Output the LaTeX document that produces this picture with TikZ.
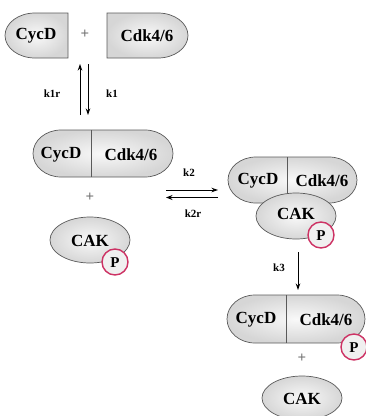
\documentclass[tikz,border=0pt]{standalone}
\usepackage{fontspec}
\setmainfont{Liberation Serif}
\usetikzlibrary{arrows.meta}
\definecolor{pinkring}{RGB}{205,50,100}
\definecolor{edgegray}{RGB}{90,90,90}
\tikzset{
  blob/.style={draw=edgegray, line width=0.7pt, inner color=gray!5, outer color=gray!32},
  ptag/.style={draw=pinkring, line width=1.4pt, fill=gray!12},
  molname/.style={font=\bfseries\fontsize{17}{17}\selectfont, inner sep=0pt},
  ptext/.style={font=\bfseries\fontsize{15}{15}\selectfont, inner sep=0pt},
  ratelabel/.style={font=\bfseries\fontsize{11}{11}\selectfont, inner sep=0pt},
  plus/.style={font=\bfseries\fontsize{15}{15}\selectfont, text=black!55, inner sep=0pt},
  rxn/.style={-{Stealth[length=6.5pt,width=4.5pt]}, line width=0.9pt},
  rxnthick/.style={-{Stealth[length=6.5pt,width=5pt]}, line width=1.6pt},
  divider/.style={draw=edgegray, line width=0.7pt}
}
\begin{document}
\begin{tikzpicture}[x=1pt,y=-1pt]
\useasboundingbox (0,0) rectangle (366,416);

% ---------- top row: CycD + Cdk4/6 ----------
\path[blob] (68,13) -- (35,13) arc[start angle=270,end angle=90,x radius=30,y radius=22.5] -- (68,58) -- cycle;
\path[blob] (107,13) -- (158,13) arc[start angle=270,end angle=450,x radius=30,y radius=22.5] -- (107,58) -- cycle;
\node[molname] (cycdA) at (36,35.5) {CycD};
\node[plus] (plusA) at (85,34) {+};
\node[molname] (cdkA) at (147,35.5) {Cdk4/6};

% k1 / k1r arrows
\coordinate (k1top) at (80,64);
\coordinate (k1bot) at (80,115);
\coordinate (k1ttop) at (88,64);
\coordinate (k1tbot) at (88,115);
\draw[rxn] (k1bot) -- (k1top);
\draw[rxn] (k1ttop) -- (k1tbot);
\node[ratelabel] (k1r) at (52,94) {k1r};
\node[ratelabel] (k1) at (112,94) {k1};

% ---------- second: CycD|Cdk4/6 + CAK-P ----------
\path[blob] (61,130) -- (145,130) arc[start angle=270,end angle=450,x radius=28,y radius=23.5] -- (61,177) arc[start angle=90,end angle=270,x radius=28,y radius=23.5] -- cycle;
\draw[divider] (91,130) -- (91,177);
\node[molname] (cycdB) at (61,155) {CycD};
\node[molname] (cdkB) at (131,155) {Cdk4/6};
\node[plus] (plusB) at (90,197) {+};
\path[blob] (90,240) ellipse[x radius=40,y radius=23];
\node[molname] (cakB) at (90,241) {CAK};
\path[ptag] (115,262) circle[radius=13];
\node[ptext] (pB) at (115,262.5) {P};

% k2 / k2r arrows
\coordinate (k2l) at (166,190);
\coordinate (k2r) at (218,190);
\coordinate (k2rl) at (166,197.5);
\coordinate (k2rr) at (218,197.5);
\draw[rxn] (k2l) -- (k2r);
\draw[rxnthick] (k2rr) -- (k2rl);
\node[ratelabel] (k2lab) at (189,173) {k2};
\node[ratelabel] (k2rlab) at (193,214) {k2r};

% ---------- right: CycD|Cdk4/6 : CAK-P ----------
\path[blob] (256,157) -- (329,157) arc[start angle=270,end angle=450,x radius=28,y radius=23] -- (256,203) arc[start angle=90,end angle=270,x radius=28,y radius=23] -- cycle;
\draw[divider] (287,157) -- (287,200);
\node[molname] (cycdC) at (258,181) {CycD};
\node[molname] (cdkC) at (322,181) {Cdk4/6};
\path[blob] (296,216) ellipse[x radius=40,y radius=23];
\node[molname] (cakC) at (296,214) {CAK};
\path[ptag] (321,235) circle[radius=13];
\node[ptext] (pC) at (321,235.5) {P};

% k3 arrow
\coordinate (k3top) at (298,252);
\coordinate (k3bot) at (298,290);
\draw[rxn] (k3top) -- (k3bot);
\node[ratelabel] (k3lab) at (279,268) {k3};

% ---------- bottom: CycD|Cdk4/6-P + CAK ----------
\path[blob] (255,295) -- (337,295) arc[start angle=270,end angle=450,x radius=28,y radius=24] -- (255,343) arc[start angle=90,end angle=270,x radius=28,y radius=24] -- cycle;
\draw[divider] (286,295) -- (286,343);
\node[molname] (cycdD) at (256,320) {CycD};
\node[molname] (cdkD) at (326,320) {Cdk4/6};
\path[ptag] (354,347) circle[radius=13];
\node[ptext] (pD) at (354,347.5) {P};
\node[plus] (plusD) at (302,358) {+};
\path[blob] (302,398) ellipse[x radius=40,y radius=22];
\node[molname] (cakD) at (302,399) {CAK};
\end{tikzpicture}
\end{document}
